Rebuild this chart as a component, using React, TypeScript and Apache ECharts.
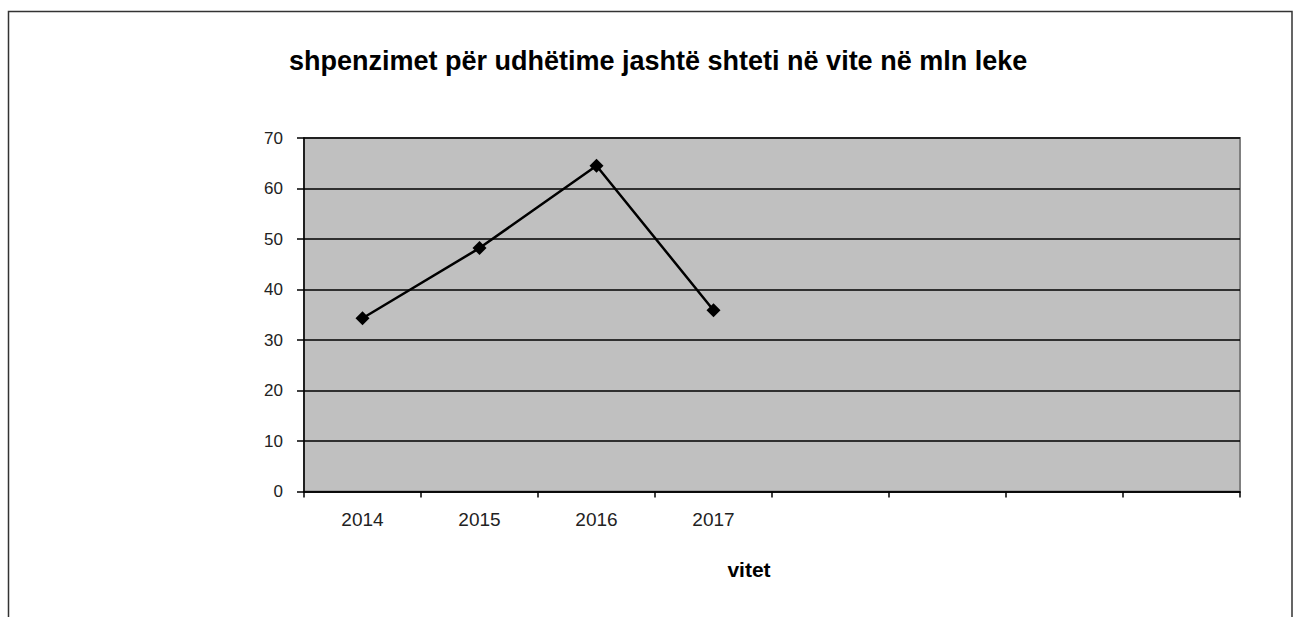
import React, { useEffect, useRef } from "react";
import * as echarts from "echarts";

const categories = ["2014", "2015", "2016", "2017", "", "", "", ""];
const values: (number | null)[] = [34.3, 48.2, 64.5, 35.9, null, null, null, null];
const yTicks = [0, 10, 20, 30, 40, 50, 60, 70];
const titleText = "shpenzimet për udhëtime jashtë shteti në vite në mln leke";
const xAxisTitle = "vitet";

const FONT = "Liberation Sans, Arial, sans-serif";

export default function App() {
  const ref = useRef<HTMLDivElement>(null);
  useEffect(() => {
    if (!ref.current) return;
    const chart = echarts.init(ref.current, null, { renderer: "svg" });
    chart.setOption({
      animation: false,
      backgroundColor: "#fff",
      textStyle: { fontFamily: FONT },
      title: {
        text: titleText,
        left: 284,
        top: 42,
        textStyle: { fontSize: 27, fontWeight: "bold", color: "#000", fontFamily: FONT },
      },
      graphic: [
        {
          type: "rect",
          shape: { x: 8.5, y: 11.5, width: 1283.5, height: 700 },
          style: { fill: "none", stroke: "#333", lineWidth: 1.5 },
          silent: true,
        },
        {
          type: "text",
          x: 749,
          y: 569,
          style: {
            text: xAxisTitle,
            fontSize: 21,
            fontWeight: "bold",
            fill: "#000",
            align: "center",
            verticalAlign: "middle",
            fontFamily: FONT,
          },
        },
      ],
      grid: {
        left: 304,
        top: 138,
        right: 53,
        bottom: 125.5,
        show: true,
        backgroundColor: "#C0C0C0",
        borderColor: "#808080",
        borderWidth: 2,
      },
      xAxis: {
        type: "category",
        data: categories,
        boundaryGap: true,
        axisLine: { show: true, lineStyle: { color: "#000", width: 1.5 } },
        axisTick: { show: true, length: 6, lineStyle: { color: "#000", width: 1.5 }, interval: 0 },
        axisLabel: { color: "#222", fontSize: 19, margin: 18, interval: 0, fontFamily: FONT },
        splitLine: { show: false },
      },
      yAxis: {
        type: "value",
        min: yTicks[0],
        max: yTicks[yTicks.length - 1],
        interval: 10,
        axisLine: { show: true, lineStyle: { color: "#000", width: 1.5 } },
        axisTick: { show: true, length: 7, lineStyle: { color: "#000", width: 1.5 } },
        axisLabel: { color: "#222", fontSize: 17, margin: 21, fontFamily: FONT },
        splitLine: { show: true, lineStyle: { color: "#000", width: 1.5 } },
      },
      series: [
        {
          type: "line",
          data: values,
          symbol: "diamond",
          symbolSize: 14,
          lineStyle: { color: "#000", width: 2.5 },
          itemStyle: { color: "#000" },
          connectNulls: false,
        },
      ],
    });
    return () => chart.dispose();
  }, []);
  return (
    <div
      ref={ref}
      style={{ position: "absolute", left: 0, top: 0, width: 1293, height: 617 }}
    />
  );
}
